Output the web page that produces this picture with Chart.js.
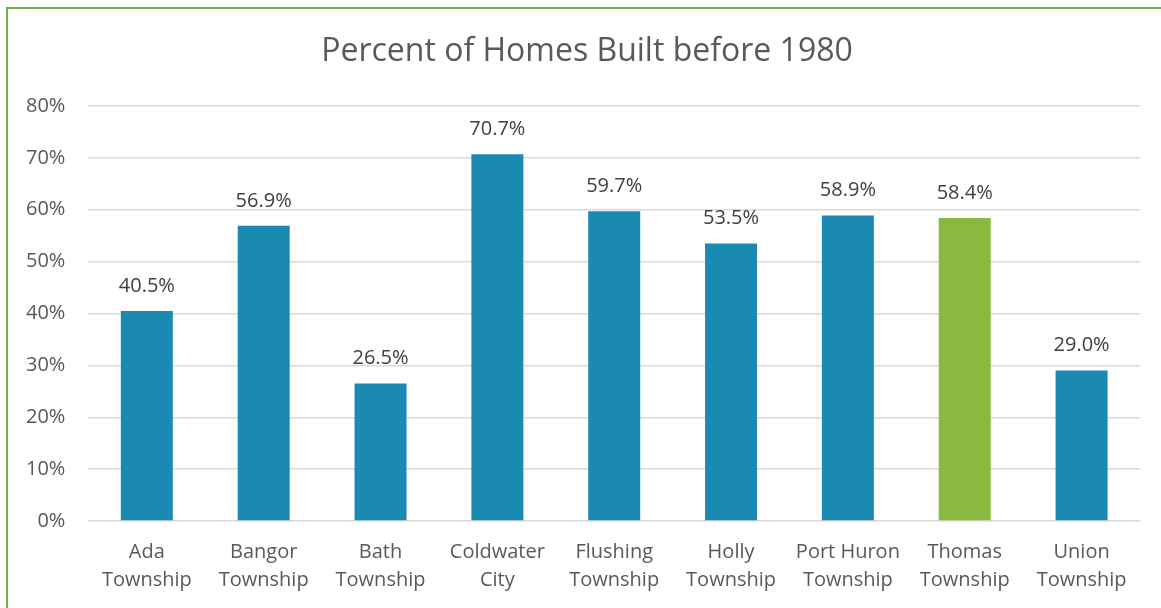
<!DOCTYPE html>
<html>
<head>
<meta charset="utf-8">
<script src="https://cdn.jsdelivr.net/npm/chart.js@4"></script>
<style>
  body { margin: 0; background: #fff; }
  #wrap { position: relative; width: 1161px; height: 608px; overflow: hidden; }
  #frame { position: absolute; left: 6px; top: 7px; width: 1170px; height: 620px; border: 2px solid #6ab04c; box-sizing: border-box; }
  canvas { position: absolute; left: 0; top: 0; }
</style>
</head>
<body>
<div id="wrap">
  <div id="frame"></div>
  <canvas id="barchart" width="1161" height="608"></canvas>
</div>
<script>
const chartTitle = 'Percent of Homes Built before 1980';
const categories = [
  ['Ada', 'Township'], ['Bangor', 'Township'], ['Bath', 'Township'],
  ['Coldwater', 'City'], ['Flushing', 'Township'], ['Holly', 'Township'],
  ['Port Huron', 'Township'], ['Thomas', 'Township'], ['Union', 'Township']
];
const percentBuilt = [40.5, 56.9, 26.5, 70.7, 59.7, 53.5, 58.9, 58.4, 29.0];
const barColors = ['#1b8ab3', '#1b8ab3', '#1b8ab3', '#1b8ab3', '#1b8ab3', '#1b8ab3', '#1b8ab3', '#8ab940', '#1b8ab3'];

// value labels above the bars + title (drawn by hand so it can sit off-centre like the original)
const valueLabels = {
  id: 'valueLabels',
  afterDatasetsDraw(chart) {
    const ctx = chart.ctx;
    const meta = chart.getDatasetMeta(0);
    ctx.save();
    ctx.font = '20px "Open Sans", sans-serif';
    ctx.fillStyle = '#404040';
    ctx.textAlign = 'center';
    ctx.textBaseline = 'middle';
    meta.data.forEach((bar, i) => {
      ctx.fillText(percentBuilt[i].toFixed(1) + '%', bar.x, bar.y - 25);
    });
    ctx.font = '32px "Open Sans", sans-serif';
    ctx.fillStyle = '#595959';
    ctx.fillText(chartTitle, 587, 52);
    ctx.restore();
  }
};

const ctx = document.getElementById('barchart').getContext('2d');
const barchart = new Chart(ctx, {
  type: 'bar',
  data: {
    labels: categories,
    datasets: [{
      data: percentBuilt,
      backgroundColor: barColors,
      categoryPercentage: 1,
      barPercentage: 0.445
    }]
  },
  options: {
    responsive: false,
    animation: false,
    layout: { padding: { left: 3, right: 21, top: 106, bottom: 4 } },
    plugins: {
      legend: { display: false },
      tooltip: { enabled: false },
      title: { display: false }
    },
    scales: {
      y: {
        min: 0,
        max: 80,
        ticks: {
          stepSize: 10,
          color: '#595959',
          font: { family: '"Open Sans", sans-serif', size: 20 },
          padding: 23,
          callback: v => v + '%'
        },
        grid: { color: '#d9d9d9', lineWidth: 1.5, drawTicks: false },
        border: { display: false }
      },
      x: {
        ticks: {
          color: '#595959',
          font: { family: '"Open Sans", sans-serif', size: 20, lineHeight: 1.425 },
          padding: 9,
          maxRotation: 0
        },
        grid: { display: false },
        border: { display: false }
      }
    }
  },
  plugins: [valueLabels]
});
</script>
</body>
</html>
